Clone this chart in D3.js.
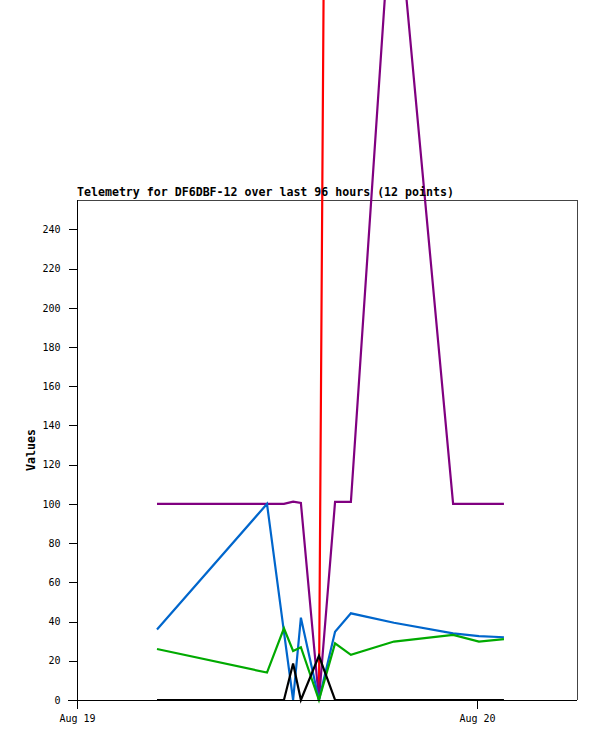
<!DOCTYPE html>
<html>
<head>
<meta charset="utf-8">
<script src="https://cdn.jsdelivr.net/npm/d3@7"></script>
<style>
html,body{margin:0;padding:0;background:#fff;overflow:hidden;}
svg{display:block;}
</style>
</head>
<body>
<svg id="chart" width="597" height="741"></svg>
<script>
const times = ["2024-08-19T04:48","2024-08-19T11:24","2024-08-19T12:25","2024-08-19T12:58","2024-08-19T13:26","2024-08-19T14:31","2024-08-19T15:29","2024-08-19T16:26","2024-08-19T19:01","2024-08-19T22:34","2024-08-20T00:07","2024-08-20T01:37"];
const redVals    = [null, null, null, null, null, 0, 1250, 1250, 1250, 1250, 1250, 1250];
const purpleVals = [100, 100, 100, 101.2, 100.5, 0, 101, 101, 427, 100, 100, 100];
const blueVals   = [36, 100, 34.7, 0, 42, 0, 34.8, 44.2, 39.4, 34, 32.6, 32];
const greenVals  = [26, 14, 36.6, 25, 26.9, 0, 28.9, 23, 29.8, 33.2, 29.8, 31];
const blackVals  = [0, 0, 0, 18.6, 0, 22.5, 0, 0, 0, 0, 0, 0];
const yTicks = [0, 20, 40, 60, 80, 100, 120, 140, 160, 180, 200, 220, 240];
const xTickDates = ["2024-08-19T00:00", "2024-08-20T00:00"];
const xTickLabels = ["Aug 19", "Aug 20"];
const titleText = "Telemetry for DF6DBF-12 over last 96 hours (12 points)";
const yLabel = "Values";

const parse = d3.utcParse("%Y-%m-%dT%H:%M");
const dates = times.map(parse);
const series = [
  {vals: redVals, color: "#ff0000"},
  {vals: purpleVals, color: "#800080"},
  {vals: blueVals, color: "#0066cc"},
  {vals: greenVals, color: "#00aa00"},
  {vals: blackVals, color: "#000000"}
];

const L = 77, R = 577, T = 200, B = 700;
const svg = d3.select("#chart");
const x = d3.scaleUtc().domain([parse("2024-08-19T00:00"), parse("2024-08-20T06:00")]).range([L, R]);
const y = d3.scaleLinear().domain([0, 255]).range([B, T]);

// frame (top/right gray)
svg.append("path")
  .attr("d", `M${L},${T + 0.5}H${R + 0.5}V${B}`)
  .attr("fill", "none").attr("stroke", "#444").attr("stroke-width", 1)
  .attr("shape-rendering", "crispEdges");

// series
const line = d3.line()
  .defined(d => d.v !== null)
  .x(d => x(d.t)).y(d => y(d.v));
series.forEach(s => {
  const data = dates.map((t, i) => ({t: t, v: s.vals[i]}));
  svg.append("path")
    .datum(data)
    .attr("d", line)
    .attr("fill", "none")
    .attr("stroke", s.color)
    .attr("stroke-width", 2.2)
    .attr("stroke-linejoin", "miter");
});

// y axis
const yAxis = d3.axisLeft(y).tickValues(yTicks).tickSize(9).tickPadding(8).tickSizeOuter(0);
const gy = svg.append("g").attr("transform", `translate(${L + 0.5},0)`).call(yAxis);
gy.select(".domain").attr("d", `M0,${T}V${B + 8}`).attr("stroke", "#000");
gy.selectAll(".tick line").attr("stroke", "#000");
gy.selectAll("text").attr("font-family", "DejaVu Sans Mono, monospace").attr("font-size", 10).attr("fill", "#000");
gy.attr("shape-rendering", "crispEdges");

// x axis
const xAxis = d3.axisBottom(x).tickValues(xTickDates.map(parse))
  .tickFormat((d, i) => xTickLabels[i]).tickSize(8).tickPadding(6).tickSizeOuter(0);
const gx = svg.append("g").attr("transform", `translate(0,${B + 0.5})`).call(xAxis);
gx.select(".domain").attr("d", `M${L - 9},0H${R}`).attr("stroke", "#000");
gx.selectAll(".tick line").attr("stroke", "#000");
gx.selectAll("text").attr("font-family", "DejaVu Sans Mono, monospace").attr("font-size", 10).attr("fill", "#000");
gx.attr("shape-rendering", "crispEdges");

// title
svg.append("text").attr("x", L).attr("y", 196)
  .attr("font-family", "DejaVu Sans Mono, monospace").attr("font-weight", "bold")
  .attr("font-size", 11.6).attr("fill", "#000").text(titleText);

// y label
svg.append("text").attr("transform", `translate(35,${(T + B) / 2}) rotate(-90)`)
  .attr("text-anchor", "middle")
  .attr("font-family", "DejaVu Sans Mono, monospace").attr("font-weight", "bold")
  .attr("font-size", 11.6).attr("fill", "#000").text(yLabel);
</script>
</body>
</html>
